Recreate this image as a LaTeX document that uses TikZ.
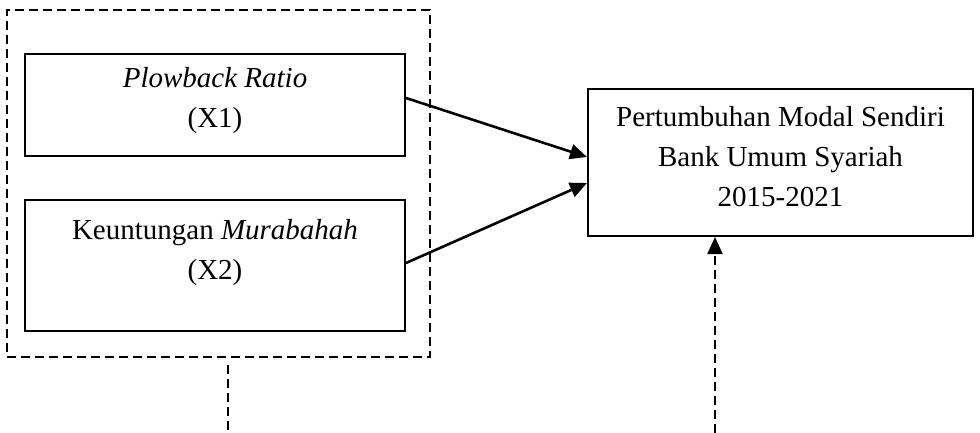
\documentclass[tikz,border=0pt]{standalone}
\usepackage{fontspec}
\setmainfont{Liberation Serif}
\usetikzlibrary{arrows.meta}
\begin{document}
\begin{tikzpicture}[x=1pt,y=-1pt,
  box/.style={draw,line width=2pt,rectangle,inner sep=0pt},
  txt/.style={align=center,font=\fontsize{29}{40}\selectfont,inner sep=0pt},
  dashbox/.style={draw,line width=1.8pt,dash pattern=on 9pt off 5pt,rectangle,inner sep=0pt},
  arr/.style={line width=2.6pt,-{Triangle[length=17pt,width=15pt]}},
  dline/.style={line width=2pt,dash pattern=on 9pt off 5pt},
  darr/.style={line width=2.2pt,dash pattern=on 9pt off 5pt,-{Triangle[length=17pt,width=15pt]}}]
\useasboundingbox (0,0) rectangle (980,433);
\node[dashbox,minimum width=423pt,minimum height=347pt] (outer) at (218.5,183.5) {};
\node[box,minimum width=380pt,minimum height=102pt] (b1) at (215,105) {};
\node[txt] (t1) at (215,101) {\textit{Plowback Ratio}\\(X1)};
\node[box,minimum width=380pt,minimum height=131pt] (b2) at (215,265.5) {};
\node[txt] (t2) at (215,253) {Keuntungan \textit{Murabahah}\\(X2)};
\node[box,minimum width=385pt,minimum height=147pt] (rb) at (780.5,162.5) {};
\node[txt] (t3) at (780.5,157) {Pertumbuhan Modal Sendiri\\Bank Umum Syariah\\2015-2021};
\draw[arr] ([yshift=7pt]b1.east) -- ([yshift=5.5pt]rb.west);
\draw[arr] ([yshift=2.5pt]b2.east) -- ([yshift=-20.5pt]rb.west);
\coordinate (l1) at (228,365);
\coordinate (l2) at (228,433);
\draw[dline] (l1) -- (l2);
\coordinate (r1) at (715,433);
\draw[darr] (r1) -- (r1 |- rb.south);
\end{tikzpicture}
\end{document}
